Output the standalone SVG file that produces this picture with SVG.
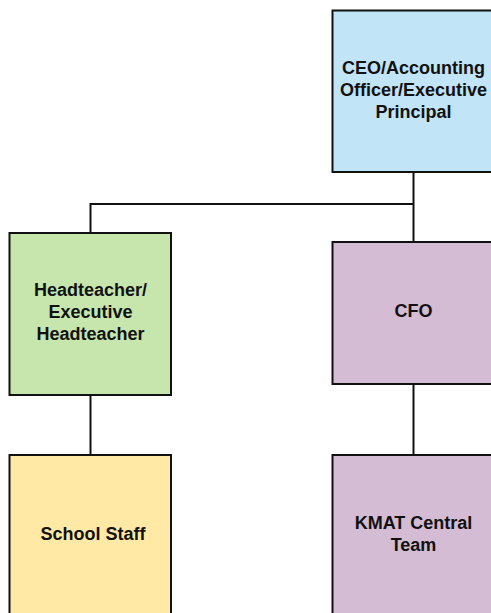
<svg xmlns="http://www.w3.org/2000/svg" width="491" height="613" viewBox="0 0 491 613">
<style>
.box{stroke:#111111;stroke-width:2}
.t{font-family:"Liberation Sans",Arial,sans-serif;font-weight:bold;font-size:18px;fill:#111111;text-anchor:middle}
.c{fill:none;stroke:#111111;stroke-width:2}
</style>
<rect width="491" height="613" fill="#ffffff"/>
<g id="connectors">
<path class="c" d="M413.5,172 V242"/>
<path class="c" d="M413.5,204 H90.5 V233"/>
<path class="c" d="M90.5,395 V455"/>
<path class="c" d="M413.5,384 V455"/>
</g>
<g id="ceo">
<rect class="box" x="332.5" y="10.5" width="162" height="161.5" fill="#c2e4f7"/>
<text class="t" x="413.5" y="73.5">CEO/Accounting</text>
<text class="t" x="413.5" y="95.5">Officer/Executive</text>
<text class="t" x="413.5" y="117.5">Principal</text>
</g>
<g id="headteacher">
<rect class="box" x="9.5" y="233" width="161.5" height="162" fill="#c7e6ae"/>
<text class="t" x="90.5" y="296">Headteacher/</text>
<text class="t" x="90.5" y="318">Executive</text>
<text class="t" x="90.5" y="340">Headteacher</text>
</g>
<g id="cfo">
<rect class="box" x="332.5" y="242" width="162" height="142" fill="#d3bcd4"/>
<text class="t" x="413.5" y="317">CFO</text>
</g>
<g id="school-staff">
<rect class="box" x="9.5" y="455" width="161.5" height="162" fill="#ffe9a5"/>
<text class="t" x="93" y="540">School Staff</text>
</g>
<g id="kmat">
<rect class="box" x="332.5" y="455" width="162" height="162" fill="#d3bcd4"/>
<text class="t" x="413.5" y="529">KMAT Central</text>
<text class="t" x="413.5" y="551">Team</text>
</g>
</svg>
